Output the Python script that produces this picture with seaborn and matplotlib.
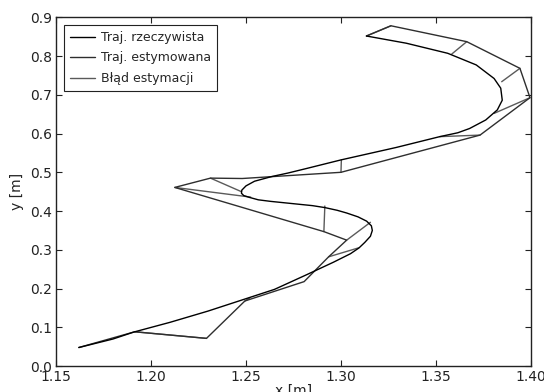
import numpy as np
import pandas as pd
import matplotlib
matplotlib.use("Agg")
import matplotlib.pyplot as plt
from matplotlib.lines import Line2D
import seaborn as sns

real_x = [1.162, 1.180, 1.191, 1.210, 1.230, 1.250, 1.265, 1.282, 1.296, 1.305,
          1.3095, 1.3125, 1.3155, 1.3165, 1.316, 1.3135, 1.309, 1.303, 1.298, 1.2915,
          1.285, 1.275, 1.263, 1.2565, 1.252, 1.2488, 1.2476, 1.2478, 1.2500, 1.2545,
          1.2635, 1.272, 1.282, 1.300, 1.329, 1.352, 1.3615, 1.3677, 1.3762, 1.3823,
          1.3849, 1.3841, 1.3806, 1.3712, 1.3562, 1.3344, 1.3134]
real_y = [0.048, 0.070, 0.088, 0.113, 0.142, 0.174, 0.198, 0.236, 0.268, 0.290,
          0.305, 0.319, 0.335, 0.350, 0.362, 0.374, 0.385, 0.395, 0.402, 0.409,
          0.414, 0.419, 0.425, 0.429, 0.435, 0.440, 0.446, 0.454, 0.465, 0.477,
          0.489, 0.498, 0.510, 0.532, 0.564, 0.592, 0.602, 0.613, 0.635, 0.661,
          0.686, 0.717, 0.742, 0.777, 0.807, 0.833, 0.8516]

# Estimated trajectory (polyline vertices)
est_x = [1.162, 1.1914, 1.2292, 1.2494, 1.2806, 1.2935, 1.303, 1.291, 1.2125,
         1.2313, 1.248, 1.300, 1.3732, 1.3995, 1.3942, 1.3662, 1.3263, 1.3134]
est_y = [0.048, 0.0886, 0.0716, 0.168, 0.218, 0.282, 0.325, 0.347, 0.461,
         0.485, 0.484, 0.500, 0.596, 0.6925, 0.7682, 0.837, 0.878, 0.8516]

# Estimation error segments: estimated point -> real point
err_est_x = [1.2292, 1.2494, 1.2935, 1.303, 1.291, 1.2125, 1.2313, 1.300,
             1.3732, 1.3995, 1.3942, 1.3662, 1.3263]
err_est_y = [0.0716, 0.168, 0.282, 0.325, 0.347, 0.461, 0.485, 0.500,
             0.596, 0.6925, 0.7682, 0.837, 0.878]
err_real_x = [1.1914, 1.252, 1.3092, 1.3155, 1.2915, 1.2525, 1.2476, 1.3002,
              1.352, 1.3806, 1.3846, 1.3583, 1.3134]
err_real_y = [0.0886, 0.176, 0.305, 0.371, 0.413, 0.436, 0.450, 0.532,
              0.592, 0.652, 0.7337, 0.805, 0.8516]

labels = ["Traj. rzeczywista", "Traj. estymowana", "Błąd estymacji"]
colors = ["#000000", "#2e2e2e", "#5a5a5a"]

sns.set_style("ticks", {"xtick.direction": "in", "ytick.direction": "in"})
plt.rcParams["font.family"] = ["DejaVu Sans"]

fig = plt.figure(figsize=(5.44, 3.92), dpi=100)
ax = fig.add_axes([0.103, 0.066, 0.873, 0.890])

real_df = pd.DataFrame({"x": real_x, "y": real_y})
est_df = pd.DataFrame({"x": est_x, "y": est_y})
err_rows = []
for i in range(len(err_est_x)):
    err_rows.append({"seg": i, "x": err_est_x[i], "y": err_est_y[i]})
    err_rows.append({"seg": i, "x": err_real_x[i], "y": err_real_y[i]})
err_df = pd.DataFrame(err_rows)

sns.lineplot(data=err_df, x="x", y="y", units="seg", estimator=None, sort=False,
             color=colors[2], linewidth=1.0, ax=ax)
sns.lineplot(data=est_df, x="x", y="y", sort=False, estimator=None,
             color=colors[1], linewidth=1.0, ax=ax)
sns.lineplot(data=real_df, x="x", y="y", sort=False, estimator=None,
             color=colors[0], linewidth=1.0, ax=ax)

ax.set_xlim(1.15, 1.40)
ax.set_ylim(0.0, 0.9)
ax.set_xticks(np.arange(1.15, 1.401, 0.05))
ax.set_yticks(np.arange(0.0, 0.91, 0.1))
ax.xaxis.set_major_formatter(matplotlib.ticker.FormatStrFormatter("%.2f"))
ax.yaxis.set_major_formatter(matplotlib.ticker.FormatStrFormatter("%.1f"))
ax.tick_params(top=True, right=True, direction="in", length=4, width=0.8,
               labelsize=10, colors="#222222", pad=3)
for s in ax.spines.values():
    s.set_linewidth(1.0)
    s.set_color("#222222")
ax.set_xlabel("x [m]", fontsize=10, labelpad=0, color="#222222")
ax.set_ylabel("y [m]", fontsize=10, labelpad=4, color="#222222")

handles = [Line2D([], [], color=c, linewidth=1.0) for c in colors]
leg = ax.legend(handles, labels, loc="upper left", fontsize=9, frameon=True,
                fancybox=False, framealpha=1, edgecolor="#222222",
                handlelength=2.0, handletextpad=0.5, borderpad=0.5,
                labelspacing=0.6, bbox_to_anchor=(0.0, 1.0), borderaxespad=0.6)
leg.get_frame().set_linewidth(0.8)

fig.savefig("out.png", dpi=100)
